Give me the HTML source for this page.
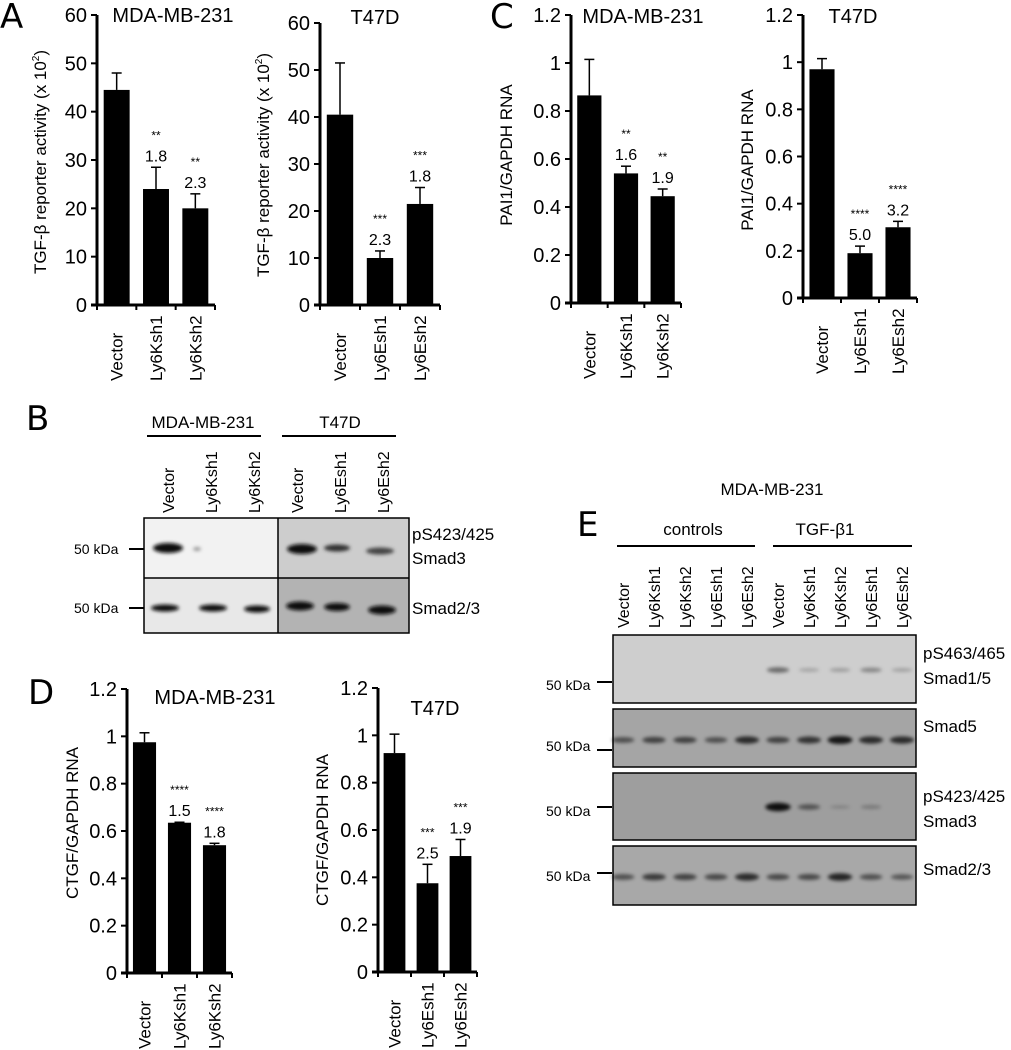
<!DOCTYPE html>
<html><head><meta charset="utf-8"><style>
html,body{margin:0;padding:0;background:#fff}
svg{display:block;font-family:"Liberation Sans",Arial,sans-serif}
</style></head><body>
<svg id="fig" width="1011" height="1050" viewBox="0 0 1011 1050" xmlns="http://www.w3.org/2000/svg">
<defs>
<filter id="blur1" x="-50%" y="-100%" width="200%" height="300%"><feGaussianBlur stdDeviation="1.8"/></filter>
</defs>
<g id="charts"></g>
<text x="0" y="28" font-size="34" font-family="DejaVu Sans,sans-serif">A</text>
<text x="490" y="28" font-size="34" font-family="DejaVu Sans,sans-serif">C</text>
<text x="26" y="430" font-size="34" font-family="DejaVu Sans,sans-serif">B</text>
<text x="28" y="704" font-size="34" font-family="DejaVu Sans,sans-serif">D</text>
<text x="577" y="536" font-size="34" font-family="DejaVu Sans,sans-serif">E</text>

<g>
<text x="203" y="428" font-size="17" text-anchor="middle">MDA-MB-231</text>
<line x1="147" y1="436" x2="261" y2="436" stroke="#000" stroke-width="2"/>
<text x="340" y="428" font-size="17" text-anchor="middle">T47D</text>
<line x1="282" y1="436" x2="396" y2="436" stroke="#000" stroke-width="2"/>
<g font-size="16">
<text transform="translate(174,513) rotate(-90)">Vector</text>
<text transform="translate(217,513) rotate(-90)">Ly6Ksh1</text>
<text transform="translate(260,513) rotate(-90)">Ly6Ksh2</text>
<text transform="translate(303,513) rotate(-90)">Vector</text>
<text transform="translate(346,513) rotate(-90)">Ly6Esh1</text>
<text transform="translate(389,513) rotate(-90)">Ly6Esh2</text>
</g>
<rect x="144" y="518" width="134" height="60" fill="#f2f2f2"/>
<rect x="144" y="578" width="134" height="55" fill="#e8e8e8"/>
<rect x="278" y="518" width="131" height="60" fill="#cdcdcd"/>
<rect x="278" y="578" width="131" height="55" fill="#b3b3b3"/>
<g filter="url(#blur1)" fill="#111">
<ellipse cx="168" cy="548" rx="15" ry="5"/>
<ellipse cx="197" cy="549" rx="4" ry="2" fill="#999"/>
<ellipse cx="302" cy="549" rx="15" ry="5"/>
<ellipse cx="337" cy="548" rx="13" ry="3.5" fill="#333"/>
<ellipse cx="380" cy="551" rx="14" ry="3.5" fill="#444"/>
<ellipse cx="165" cy="608" rx="14" ry="3.5"/>
<ellipse cx="213" cy="608" rx="14" ry="3.5"/>
<ellipse cx="257" cy="609" rx="13" ry="3.5"/>
<ellipse cx="300" cy="606" rx="14" ry="4.5"/>
<ellipse cx="337" cy="607" rx="13" ry="4"/>
<ellipse cx="382" cy="610" rx="14" ry="4.5"/>
</g>
<rect x="144" y="518" width="265" height="115" fill="none" stroke="#000" stroke-width="1.5"/>
<line x1="144" y1="578" x2="409" y2="578" stroke="#000" stroke-width="1.5"/>
<line x1="278" y1="518" x2="278" y2="633" stroke="#000" stroke-width="1.5"/>
<g font-size="14"><text x="74" y="554">50 kDa</text><text x="74" y="613">50 kDa</text></g>
<line x1="129" y1="549" x2="144" y2="549" stroke="#000" stroke-width="2"/>
<line x1="129" y1="608" x2="144" y2="608" stroke="#000" stroke-width="2"/>
<g font-size="17"><text x="412" y="540">pS423/425</text><text x="412" y="564">Smad3</text><text x="412" y="614">Smad2/3</text></g>
</g>

<g>
<text x="772" y="495" font-size="17" text-anchor="middle">MDA-MB-231</text>
<text x="693" y="535" font-size="17" text-anchor="middle">controls</text>
<text x="825" y="535" font-size="17" text-anchor="middle">TGF-β1</text>
<line x1="617" y1="546" x2="755" y2="546" stroke="#000" stroke-width="2"/>
<line x1="773" y1="546" x2="912" y2="546" stroke="#000" stroke-width="2"/>
<g id="elanes" font-size="16"></g>
<rect x="613" y="635" width="303" height="68" fill="#cecece" stroke="#000" stroke-width="1.5"/>
<rect x="613" y="709" width="303" height="58" fill="#a5a5a5" stroke="#000" stroke-width="1.5"/>
<rect x="613" y="773" width="303" height="67" fill="#9e9e9e" stroke="#000" stroke-width="1.5"/>
<rect x="613" y="846" width="303" height="59" fill="#a8a8a8" stroke="#000" stroke-width="1.5"/>
<g id="ebands" filter="url(#blur1)"></g>
<g font-size="14"><text x="546" y="690">50 kDa</text><text x="546" y="751">50 kDa</text><text x="546" y="816">50 kDa</text><text x="546" y="881">50 kDa</text></g>
<g stroke="#000" stroke-width="2"><line x1="597" y1="682" x2="612" y2="682"/><line x1="597" y1="750" x2="612" y2="750"/><line x1="597" y1="807" x2="612" y2="807"/><line x1="597" y1="873" x2="612" y2="873"/></g>
<g font-size="17"><text x="923" y="659">pS463/465</text><text x="923" y="684">Smad1/5</text><text x="923" y="732">Smad5</text><text x="923" y="802">pS423/425</text><text x="923" y="827">Smad3</text><text x="923" y="875">Smad2/3</text></g>
</g>
</svg>
<script>
const catsK = ["Vector","Ly6Ksh1","Ly6Ksh2"];
const catsE = ["Vector","Ly6Esh1","Ly6Esh2"];
const aMdaVals = [44.5, 24, 20];
const aMdaErr = [48, 28.5, 23];
const aMdaFold = ["", "1.8", "2.3"];
const aMdaStars = ["", "**", "**"];
const aT47Vals = [40.5, 10, 21.5];
const aT47Err = [51.5, 11.5, 25];
const aT47Fold = ["", "2.3", "1.8"];
const aT47Stars = ["", "***", "***"];
const cMdaVals = [0.865, 0.54, 0.445];
const cMdaErr = [1.015, 0.57, 0.475];
const cMdaFold = ["", "1.6", "1.9"];
const cMdaStars = ["", "**", "**"];
const cT47Vals = [0.97, 0.19, 0.30];
const cT47Err = [1.015, 0.22, 0.325];
const cT47Fold = ["", "5.0", "3.2"];
const cT47Stars = ["", "****", "****"];
const dMdaVals = [0.975, 0.635, 0.54];
const dMdaErr = [1.015, 0.637, 0.548];
const dMdaFold = ["", "1.5", "1.8"];
const dMdaStars = ["", "****", "****"];
const dT47Vals = [0.925, 0.375, 0.49];
const dT47Err = [1.005, 0.455, 0.56];
const dT47Fold = ["", "2.5", "1.9"];
const dT47Stars = ["", "***", "***"];
const ticksA = ["0","10","20","30","40","50","60"];
const ticksR = ["0","0.2","0.4","0.6","0.8","1","1.2"];
const laneNames = ["Vector","Ly6Ksh1","Ly6Ksh2","Ly6Esh1","Ly6Esh2","Vector","Ly6Ksh1","Ly6Ksh2","Ly6Esh1","Ly6Esh2"];
const pSmad15 = [0,0,0,0,0,0.4,0.08,0.12,0.25,0.1];
const smad5 = [0.45,0.55,0.55,0.45,0.7,0.55,0.65,0.85,0.7,0.7];
const pSmad3 = [0,0,0,0,0,0.9,0.4,0.04,0.12,0];
const smad23 = [0.45,0.6,0.55,0.5,0.7,0.5,0.5,0.75,0.45,0.4];

const NS="http://www.w3.org/2000/svg";
const root=document.getElementById('charts');
function mk(tag,attrs,parent){const e=document.createElementNS(NS,tag);for(const k in attrs)e.setAttribute(k,attrs[k]);(parent||root).appendChild(e);return e;}

function chart(o){
  const g=mk('g',{});
  
  
  const ymax=parseFloat(o.ticks[o.ticks.length-1]);
  const y=v=>o.y0-(v/ymax)*(o.y0-o.yTop);
  const bw=(o.x1-o.x0)/o.cats.length;
  const x=i=>o.x0+bw*(i+0.5);
  mk('line',{x1:o.x0,y1:o.yTop,x2:o.x0,y2:o.y0,stroke:'#000','stroke-width':3},g);
  mk('line',{x1:o.x0-6,y1:o.y0,x2:o.x1,y2:o.y0,stroke:'#000','stroke-width':3},g);
  o.ticks.forEach(t=>{
    const v=parseFloat(t),yy=y(v);
    mk('line',{x1:o.x0-6,y1:yy,x2:o.x0,y2:yy,stroke:'#000','stroke-width':2},g);
    const tx=mk('text',{x:o.x0-10,y:yy+7,'font-size':20,'text-anchor':'end'},g);tx.textContent=t;
  });
  for(let i=0;i<=o.cats.length;i++){const xx=o.x0+bw*i;mk('line',{x1:xx,y1:o.y0,x2:xx,y2:o.y0+5,stroke:'#000','stroke-width':2},g);}
  o.cats.forEach((c,i)=>{
    const w=bw*0.66, top=y(o.vals[i]), et=y(o.err[i]);
    const b=mk('rect',{x:x(i)-w/2,y:top,width:w,height:o.y0-top,fill:'#000'},g);
    
    
    mk('line',{x1:x(i),y1:top,x2:x(i),y2:et,stroke:'#000','stroke-width':1.5},g);
    mk('line',{x1:x(i)-5,y1:et,x2:x(i)+5,y2:et,stroke:'#000','stroke-width':1.5},g);
    if(o.fold[i]){const f=mk('text',{x:x(i),y:et-6,'font-size':16,'text-anchor':'middle'},g);f.textContent=o.fold[i];
      const s=mk('text',{x:x(i),y:et-28,'font-size':12,'text-anchor':'middle'},g);s.textContent=o.stars[i];}
    const l=mk('text',{transform:`translate(${x(i)+6},${o.y0+76}) rotate(-90)`,'font-size':17},g);l.textContent=c;
  });
  const t=mk('text',{x:o.tx,y:o.ty,'font-size':20,'text-anchor':'middle'},g);t.textContent=o.title;
  const yl=mk('text',{transform:`translate(${o.lx},${o.ly}) rotate(-90)`,'font-size':17,'text-anchor':'middle'},g);
  yl.innerHTML=o.ylabel;
}
const labA='TGF-β reporter activity (x 10<tspan font-size="10" dy="-7">2</tspan><tspan dy="7">)</tspan>';
chart({name:'chart-a-mda',cats:catsK,vals:aMdaVals,err:aMdaErr,fold:aMdaFold,stars:aMdaStars,ticks:ticksA,x0:97,x1:215,y0:305,yTop:15,title:'MDA-MB-231',tx:173,ty:22,ylabel:labA,lx:46,ly:162});
chart({name:'chart-a-t47d',cats:catsE,vals:aT47Vals,err:aT47Err,fold:aT47Fold,stars:aT47Stars,ticks:ticksA,x0:320,x1:440,y0:305,yTop:23,title:'T47D',tx:375,ty:24,ylabel:labA,lx:269,ly:165});
chart({name:'chart-c-mda',cats:catsK,vals:cMdaVals,err:cMdaErr,fold:cMdaFold,stars:cMdaStars,ticks:ticksR,x0:571,x1:681,y0:303,yTop:15,title:'MDA-MB-231',tx:643,ty:23,ylabel:'PAI1/GAPDH RNA',lx:512,ly:155});
chart({name:'chart-c-t47d',cats:catsE,vals:cT47Vals,err:cT47Err,fold:cT47Fold,stars:cT47Stars,ticks:ticksR,x0:803,x1:917,y0:298,yTop:15,title:'T47D',tx:853,ty:23,ylabel:'PAI1/GAPDH RNA',lx:753,ly:160});
chart({name:'chart-d-mda',cats:catsK,vals:dMdaVals,err:dMdaErr,fold:dMdaFold,stars:dMdaStars,ticks:ticksR,x0:127,x1:232,y0:973,yTop:689,title:'MDA-MB-231',tx:215,ty:704,ylabel:'CTGF/GAPDH RNA',lx:78,ly:823});
chart({name:'chart-d-t47d',cats:catsE,vals:dT47Vals,err:dT47Err,fold:dT47Fold,stars:dT47Stars,ticks:ticksR,x0:378,x1:477,y0:972,yTop:688,title:'T47D',tx:435,ty:715,ylabel:'CTGF/GAPDH RNA',lx:328,ly:830});

const eL=document.getElementById('elanes'), eB=document.getElementById('ebands');
const laneX=i=>623+i*31.0;
laneNames.forEach((n,i)=>{
  const t=mk('text',{transform:`translate(${laneX(i)+6},628) rotate(-90)`},eL);t.textContent=n;
});
function bands(arr,cy,name){
  arr.forEach((v,i)=>{ if(v<=0)return;
    const e=mk('ellipse',{cx:laneX(i),cy:cy,rx:10+3*v,ry:1.5+3*v,fill:'#000','fill-opacity':Math.min(1,0.15+0.85*v)},eB);
    
    
  });
}
bands(pSmad15,670,'psmad15');
bands(smad5,740,'smad5');
bands(pSmad3,807,'psmad3');
bands(smad23,877,'smad23');
</script>
</body></html>
